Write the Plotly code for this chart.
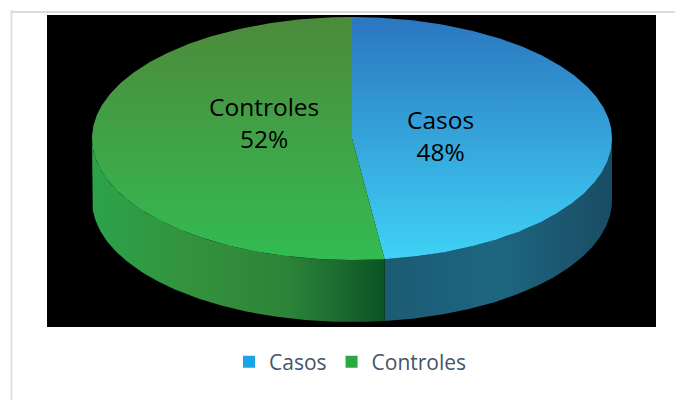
import numpy as np
import plotly.graph_objects as go

# ---- data ----
categories = ["Casos", "Controles"]
values = [48, 52]
top_colors = [["#2b76bf", "#3fd2f6"], ["#4d8a3b", "#33bb52"]]
side_colors = [["#1c5b73", "#1e6680", "#194c64"],
               ["#2ba34b", "#34923c", "#2c8439", "#0b5424"]]
legend_colors = ["#1aa6e4", "#2aa845"]

# ---- geometry (page pixel space; page body has an 8px offset) ----
W, H = 683, 400
OFF = 8
cx, cy = 352, 138.5
rx, ry = 260, 121.5
depth = 62

def pt(theta_deg, dy=0.0):
    t = np.radians(theta_deg)
    return cx + rx * np.sin(t), cy - ry * np.cos(t) + dy

fig = go.Figure()

total = sum(values)
angles = np.cumsum([0] + [v / total * 360 for v in values])

# side walls (front half: 90..270 deg)
for i, cat in enumerate(categories):
    a, b = angles[i], angles[i + 1]
    lo, hi = max(a, 90), min(b, 270)
    if lo >= hi:
        continue
    th = np.linspace(lo, hi, 200)
    xt, yt = pt(th)
    xb, yb = pt(th[::-1], depth)
    xs = np.concatenate([xt, xb, xt[:1]])
    ys = np.concatenate([yt, yb, yt[:1]])
    cols = side_colors[i]
    cs = [[k / (len(cols) - 1), c] for k, c in enumerate(cols)]
    fig.add_trace(go.Scatter(
        x=xs, y=ys, mode="lines", fill="toself", line=dict(width=0),
        fillcolor=cols[0],
        fillgradient=dict(type="horizontal", colorscale=cs,
                          start=float(xs.min()), stop=float(xs.max())),
        hoverinfo="skip", showlegend=False))

# top faces
for i, cat in enumerate(categories):
    a, b = angles[i], angles[i + 1]
    th = np.linspace(a, b, 300)
    xa, ya = pt(th)
    xs = np.concatenate([[cx], xa, [cx]])
    ys = np.concatenate([[cy], ya, [cy]])
    c0, c1 = top_colors[i]
    fig.add_trace(go.Scatter(
        x=xs, y=ys, mode="lines", fill="toself", line=dict(width=0),
        fillcolor=c1,
        fillgradient=dict(type="vertical", colorscale=[[0, c0], [1, c1]],
                          start=float(cy - ry), stop=float(cy + ry)),
        hoverinfo="skip", showlegend=False))

# labels
for i, cat in enumerate(categories):
    mid = (angles[i] + angles[i + 1]) / 2
    t = np.radians(mid)
    lx = cx + 0.34 * rx * np.sin(t)
    ly = cy - 0.34 * ry * np.cos(t)
    fig.add_annotation(x=lx, y=ly, text=f"{cat}<br>{values[i]}%", showarrow=False,
                       yshift=(0 if i == 0 else 19),
                       font=dict(family="Open Sans", size=24.5, color="#000000"))

# legend entries
for i, cat in enumerate(categories):
    fig.add_trace(go.Scatter(x=[None], y=[None], mode="markers", name=cat,
                             marker=dict(symbol="square", size=12, color=legend_colors[i])))

fig.update_layout(
    width=W, height=H, margin=dict(l=0, r=0, t=0, b=0),
    paper_bgcolor="white", plot_bgcolor="white",
    xaxis=dict(range=[OFF, W + OFF], visible=False, fixedrange=True),
    yaxis=dict(range=[H + OFF, OFF], visible=False, fixedrange=True),
    showlegend=True,
    legend=dict(orientation="h", x=0.5 + 1 / W, xanchor="center",
                y=1 - (362 - OFF) / H, yanchor="middle",
                font=dict(family="Open Sans", size=21, color="#44546a"),
                bgcolor="rgba(0,0,0,0)", itemwidth=30),
    shapes=[
        dict(type="line", xref="x", yref="paper", x0=11, x1=W + 40, y0=0.99, y1=0.99,
             line=dict(color="#d8dde4", width=2), layer="above"),
        dict(type="line", xref="x", yref="y", x0=11.5, x1=11.5, y0=10, y1=H + 40,
             line=dict(color="#dde2e8", width=2), layer="below"),
        dict(type="rect", xref="x", yref="y", x0=47, x1=656, y0=15, y1=327,
             line=dict(width=0), fillcolor="black", layer="below"),
    ],
)

fig.write_html("out.html")
